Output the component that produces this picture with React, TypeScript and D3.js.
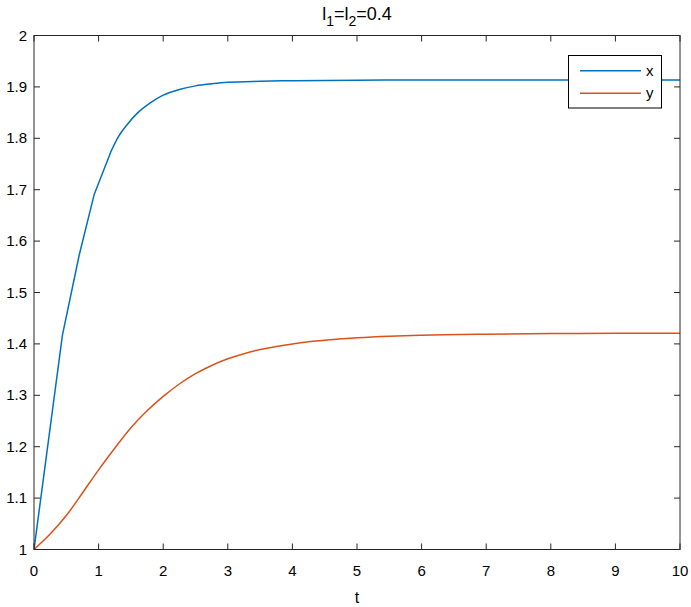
import React from "react";
import * as d3 from "d3";

const xTicks = [0, 1, 2, 3, 4, 5, 6, 7, 8, 9, 10];
const yTicks = [1, 1.1, 1.2, 1.3, 1.4, 1.5, 1.6, 1.7, 1.8, 1.9, 2];

const tX = [0, 0.44, 0.7, 0.93, 1.19, 1.3, 1.45, 1.6, 1.8, 2.0, 2.25, 2.5, 2.75, 3.0, 3.5, 4.0, 5.0, 6.0, 7.0, 8.0, 9.0, 10.0];
const xVals = [1, 1.417, 1.573, 1.69, 1.774, 1.802, 1.828, 1.849, 1.869, 1.884, 1.895, 1.902, 1.906, 1.909, 1.911, 1.912, 1.913, 1.9134, 1.9135, 1.9135, 1.9135, 1.9135];

const tY = [0, 0.25, 0.5, 0.75, 1.0, 1.25, 1.5, 1.75, 2.0, 2.25, 2.5, 2.75, 3.0, 3.25, 3.5, 3.75, 4.0, 4.25, 4.5, 4.75, 5.0, 5.5, 6.0, 7.0, 8.0, 9.0, 10.0];
const yVals = [1, 1.03, 1.066, 1.11, 1.155, 1.197, 1.237, 1.27, 1.298, 1.322, 1.342, 1.358, 1.371, 1.381, 1.389, 1.395, 1.4, 1.404, 1.407, 1.41, 1.412, 1.415, 1.417, 1.419, 1.42, 1.4205, 1.4207];

const seriesNames = ["x", "y"];
const colors = ["#0072BD", "#D95319"];

export default function App() {
  const W = 691, H = 607;
  const L = 34, R = 680, T = 35.5, B = 549.5;
  const xs = d3.scaleLinear().domain([0, 10]).range([L, R]);
  const ys = d3.scaleLinear().domain([1, 2]).range([B, T]);
  const line = d3.line<[number, number]>().x(d => xs(d[0])).y(d => ys(d[1]));
  const lineSmooth = d3.line<[number, number]>().x(d => xs(d[0])).y(d => ys(d[1])).curve(d3.curveMonotoneX);
  const dX = tX.map((t, i) => [t, xVals[i]] as [number, number]);
  const dY = tY.map((t, i) => [t, yVals[i]] as [number, number]);
  const dXa = dX.slice(0, 5);
  const dXb = dX.slice(4);
  const axisColor = "#262626";
  const font = "'Liberation Sans', Arial, sans-serif";
  const tl = 6;
  return (
    <svg width={W} height={H} style={{ position: "absolute", left: 0, top: 0 }} fontFamily={font}>
      <rect x={0} y={0} width={W} height={H} fill="#fff" />
      <defs>
        <clipPath id="clip">
          <rect x={L} y={T} width={R - L} height={B - T} />
        </clipPath>
      </defs>
      <g clipPath="url(#clip)">
        <path d={(line(dXa) || "") + (lineSmooth(dXb) || "").replace(/^M/, "L")} fill="none" stroke={colors[0]} strokeWidth={1.5} strokeLinejoin="round" />
        <path d={lineSmooth(dY) || ""} fill="none" stroke={colors[1]} strokeWidth={1.5} />
      </g>
      <rect x={L} y={T} width={R - L} height={B - T} fill="none" stroke={axisColor} strokeWidth={1} />
      {xTicks.map(t => (
        <g key={"x" + t}>
          <line x1={xs(t)} x2={xs(t)} y1={B} y2={B - tl} stroke={axisColor} />
          <line x1={xs(t)} x2={xs(t)} y1={T} y2={T + tl} stroke={axisColor} />
          <text x={xs(t)} y={576} textAnchor="middle" fontSize={15} fill="#000">{t}</text>
        </g>
      ))}
      {yTicks.map(v => (
        <g key={"y" + v}>
          <line x1={L} x2={L + tl} y1={ys(v)} y2={ys(v)} stroke={axisColor} />
          <line x1={R} x2={R - tl} y1={ys(v)} y2={ys(v)} stroke={axisColor} />
          <text x={27} y={ys(v) + 5} textAnchor="end" fontSize={15} fill="#000">{d3.format("")(+v.toFixed(1))}</text>
        </g>
      ))}
      <text x={(L + R) / 2} y={603} textAnchor="middle" fontSize={16} fill="#000">t</text>
      <text x={(L + R) / 2} y={20} textAnchor="middle" fontSize={18} fill="#000">
        <tspan>l</tspan>
        <tspan dy={6} fontSize={14}>1</tspan>
        <tspan dy={-6}>=l</tspan>
        <tspan dy={6} fontSize={14}>2</tspan>
        <tspan dy={-6}>=0.4</tspan>
      </text>
      <g>
        <rect x={568.5} y={55.5} width={93} height={52.5} fill="#fff" stroke="#000" strokeWidth={1} />
        {seriesNames.map((n, i) => (
          <g key={n}>
            <line x1={580} x2={641} y1={70.7 + i * 22.6} y2={70.7 + i * 22.6} stroke={colors[i]} strokeWidth={1.5} />
            <text x={646} y={70.7 + i * 22.6 + 5} fontSize={15} fill="#000">{n}</text>
          </g>
        ))}
      </g>
    </svg>
  );
}
